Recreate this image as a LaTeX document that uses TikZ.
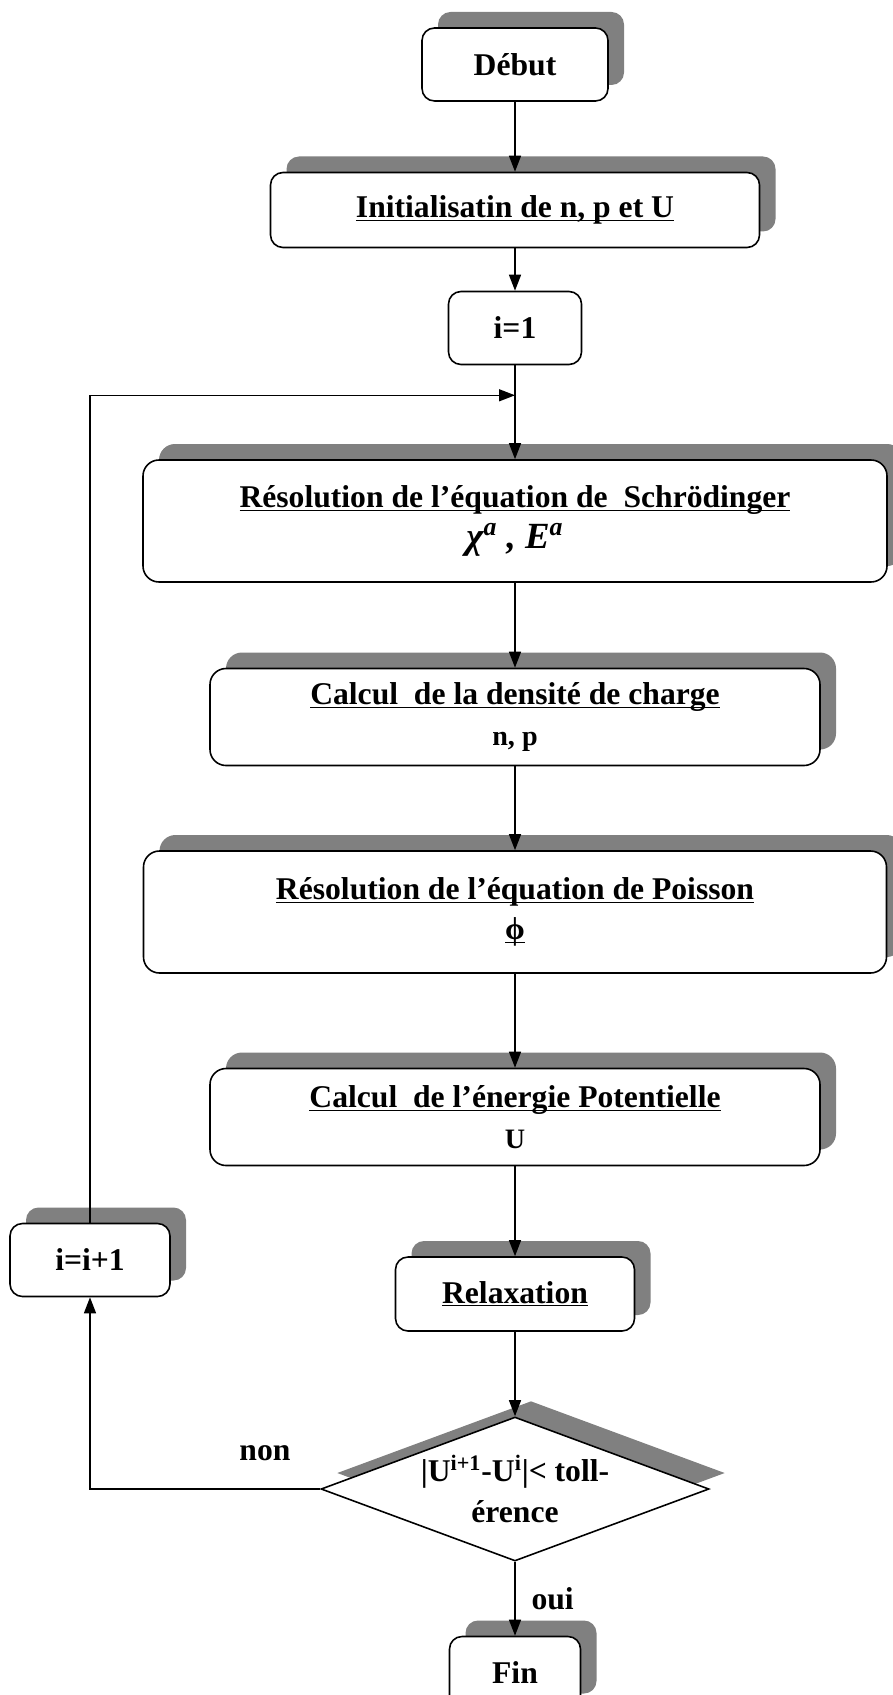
\documentclass[tikz,border=0pt]{standalone}
\usepackage{fontspec}
\setmainfont{Liberation Serif}
\usepackage{tikz}
\usetikzlibrary{shapes.geometric}
\usetikzlibrary{positioning}
\usetikzlibrary{shadows}
\usetikzlibrary{arrows.meta}
\newcommand{\ulbox}[1]{\underline{\smash{#1}}\vphantom{#1}}
\tikzstyle{startstop} = [rectangle, rounded corners=0.25cm, minimum height=1.46cm, text centered, draw=black, line width=0.9pt, fill=white, drop shadow={shadow xshift=0.32cm, shadow yshift=0.32cm, fill=gray, opacity=1}]
\tikzstyle{plain} = [rectangle, rounded corners=0.25cm, minimum height=1.46cm, text centered, draw=black, line width=0.9pt, fill=white]
\tikzstyle{process} = [rectangle, rounded corners=0.32cm, text centered, align=center, draw=black, line width=0.9pt, fill=white, drop shadow={shadow xshift=0.32cm, shadow yshift=0.32cm, fill=gray, opacity=1}]
\tikzstyle{decision} = [diamond, aspect=2.7, inner sep=0pt, minimum width=7.76cm, minimum height=2.88cm, text centered, align=center, draw=black, line width=0.9pt, fill=white, drop shadow={shadow xshift=0.32cm, shadow yshift=0.32cm, fill=gray, opacity=1}]
\tikzstyle{arrow} = [line width=0.8pt,-{Triangle[length=0.32cm,width=0.24cm]}]

\begin{document}
\begin{tikzpicture}[node distance=1cm, every node/.style={font=\fontsize{18}{23}\selectfont\bfseries}]
        \useasboundingbox (0,0) rectangle (17.84,-33.9);
        \node (debut) [startstop, minimum width=3.72cm] at (10.3,-1.29) {Début};
        \node (init) [startstop, minimum width=9.78cm, minimum height=1.5cm, below of=debut, yshift=-1.91cm] {\ulbox{Initialisatin de n, p et U}};
        \node (one) [plain, minimum width=2.66cm, below of=init, yshift=-1.36cm] {i=1};
        \node (schrod) [process, minimum width=14.88cm, minimum height=2.44cm, below of=one, yshift=-2.86cm] {\ulbox{Résolution de l’équation de~~Schrödinger}\\ {\fontsize{21}{25}\selectfont\itshape χ\textsuperscript{a}~, E\textsuperscript{a}}};
        \node (densite) [process, minimum width=12.2cm, minimum height=1.94cm, below of=schrod, yshift=-2.92cm] {\ulbox{Calcul~~de la densité de charge}\\ {\fontsize{16}{20}\selectfont n, p}};
        \node (poisson) [process, minimum width=14.86cm, minimum height=2.44cm, below of=densite, yshift=-2.9cm] {\ulbox{Résolution de l’équation de Poisson}\\ \ulbox{ϕ}};
        \node (energie) [process, minimum width=12.2cm, minimum height=1.94cm, below of=poisson, yshift=-3.1cm] {\ulbox{Calcul~~de l’énergie Potentielle}\\ {\fontsize{16}{20}\selectfont U}};
        \node (relax) [startstop, minimum width=4.78cm, minimum height=1.48cm, below of=energie, yshift=-2.54cm] {\ulbox{Relaxation}};
        \node (incr) [startstop, minimum width=3.2cm, left of=relax, xshift=-7.5cm, yshift=0.68cm] {i=i+1};
        \node (test) [decision, below of=relax, yshift=-2.9cm] {|U\textsuperscript{i+1}-U\textsuperscript{i}|< toll-\\ érence};
        \node (fin) [startstop, minimum width=2.62cm, below of=test, yshift=-2.68cm] {Fin};
        \coordinate (join) at ([yshift=-0.6cm]one.south);

        \draw [arrow] (debut) -- (init);
        \draw [arrow] (init) -- (one);
        \draw [arrow] (one) -- (schrod);
        \draw [arrow] (schrod) -- (densite);
        \draw [arrow] (densite) -- (poisson);
        \draw [arrow] (poisson) -- (energie);
        \draw [arrow] (energie) -- (relax);
        \draw [arrow] (relax) -- (test);
        \draw [arrow] (test) -- node[anchor=west, xshift=0.2cm] {oui} (fin);
        \draw [arrow] (test.west) -| node[pos=0.12, yshift=0.72cm] {non} (incr.south);
        \draw [arrow] (incr.north) |- (join);

    \end{tikzpicture}
\end{document}
